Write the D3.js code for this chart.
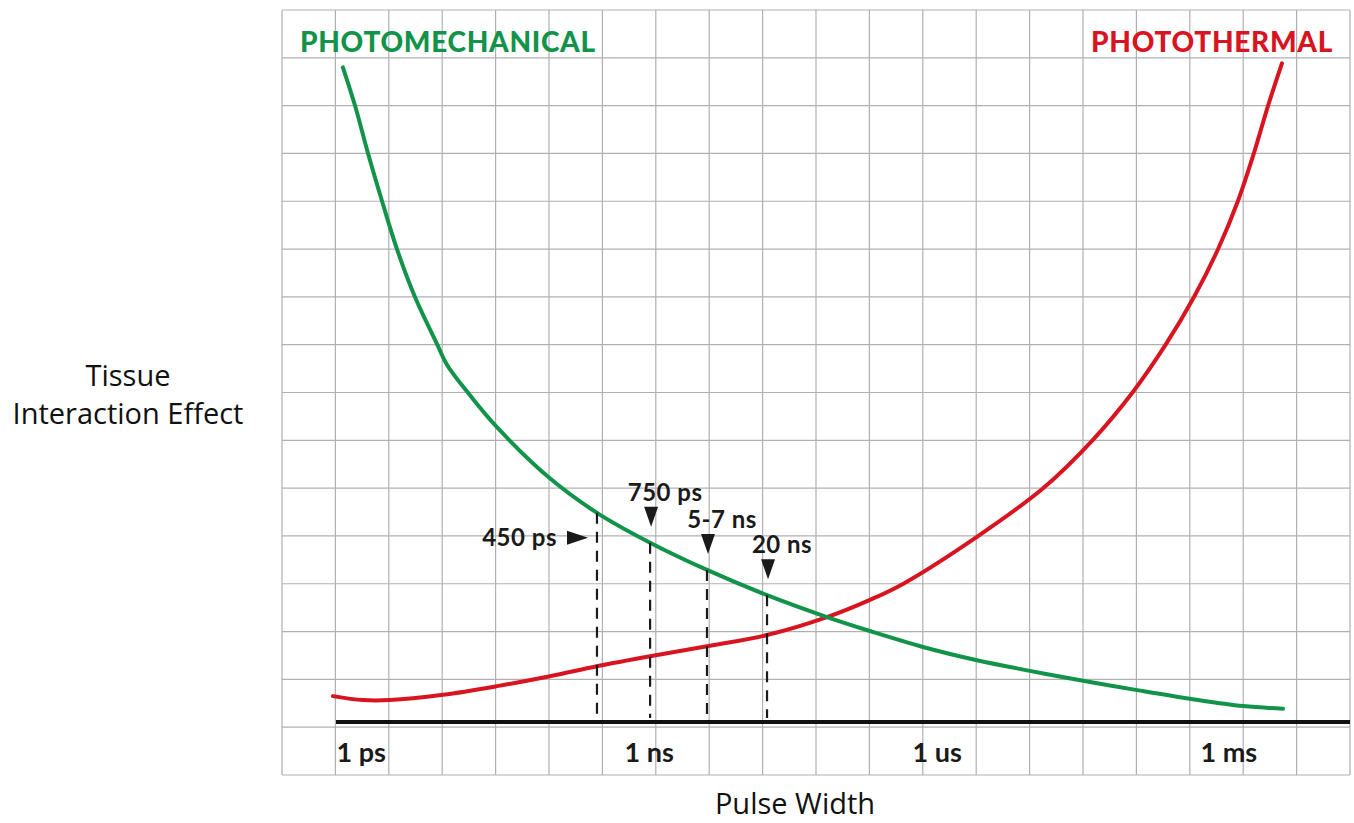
<!DOCTYPE html>
<html>
<head>
<meta charset="utf-8">
<script src="https://cdn.jsdelivr.net/npm/d3@7"></script>
<style>
  body { margin: 0; background: #fff; }
  svg { display: block; }
</style>
</head>
<body>
<svg id="chart" width="1354" height="823"></svg>
<script>

// pulse width (s) and effect (% of full scale)
const mechPulse = [1.18e-12, 1.58e-12, 2.15e-12, 3.01e-12, 4.32e-12, 6.65e-12, 1.13e-11, 1.43e-11,
                   2.49e-11, 4.75e-11, 1.69e-10, 5.23e-10, 1.87e-9, 7.32e-9, 3.09e-8, 1.30e-7,
                   3.65e-7, 1.30e-6, 4.75e-6, 1.69e-5, 6.04e-5, 2.21e-4, 7.87e-4, 2.81e-3, 7.33e-3]
const mechEffect = [98.6, 92.8, 85.7, 78.5, 71.2, 64.0, 56.9, 53.8,
                    49.2, 44.4, 36.7, 31.5, 27.0, 22.9, 19.1, 15.8,
                    13.7, 11.3, 9.3, 7.7, 6.2, 4.8, 3.5, 2.4, 2.0]

const thermPulse = [9.3e-13, 1.91e-12, 3.65e-12, 1.30e-11, 4.75e-11, 1.69e-10, 5.23e-10, 1.87e-9,
                    7.32e-9, 3.09e-8, 1.30e-7, 3.65e-7, 8.05e-7, 4.87e-6, 2.32e-5, 7.67e-5,
                    2.00e-4, 4.42e-4, 8.66e-4, 1.54e-3, 2.49e-3, 3.65e-3, 5.11e-3, 7.14e-3]
const thermEffect = [3.9, 3.3, 3.3, 4.1, 5.4, 6.9, 8.4, 9.9,
                     11.4, 13.1, 15.8, 18.4, 20.8, 28.0, 35.2, 42.5,
                     49.7, 56.9, 64.0, 71.2, 78.5, 85.7, 92.8, 99.2]

const tickPulse = [1e-12, 1e-9, 1e-6, 1e-3]
const tickLabels = ['1 ps', '1 ns', '1 us', '1 ms']

const markerLabels = ['450 ps', '750 ps', '5-7 ns', '20 ns']
const markerPulse = [5.23e-10, 1.87e-9, 7.32e-9, 3.09e-8]
const markerTop = [31.5, 27.0, 22.9, 19.1]

const GREEN = '#12934a'
const RED = '#d7141f'
const BOLD = 'Lato, "Open Sans", sans-serif'
const PLAIN = '"Open Sans", "Noto Sans", sans-serif'

function DrawChart(){

	const svg = d3.select('#chart')

	// paper grid frame
	const frame = {left: 282, right: 1350, top: 10, bottom: 775}
	const cols = 20, rows = 16

	const gx = d3.scaleLinear().domain([0, cols]).range([frame.left, frame.right])
	const gy = d3.scaleLinear().domain([0, rows]).range([frame.top, frame.bottom])

	const grid = svg.append('g')
		.attr('stroke', '#b0b0b0')
		.attr('stroke-width', 1.2)

	grid.selectAll('.v')
		.data(d3.range(cols + 1))
		.join('line')
			.attr('x1', d => gx(d)).attr('x2', d => gx(d))
			.attr('y1', frame.top).attr('y2', frame.bottom)

	grid.selectAll('.h')
		.data(d3.range(rows + 1))
		.join('line')
			.attr('x1', frame.left).attr('x2', frame.right)
			.attr('y1', d => gy(d)).attr('y2', d => gy(d))

	// x scale (log pulse width), y scale (effect)
	const x = d3.scaleLog()
				.domain([1e-12, 1e-3])
				.range([336, 1200])

	const y = d3.scaleLinear()
				.domain([0, 100])
				.range([722, 58])

	// baseline
	svg.append('line')
		.attr('x1', x(1e-12)).attr('x2', frame.right)
		.attr('y1', y(0)).attr('y2', y(0))
		.attr('stroke', '#111')
		.attr('stroke-width', 4)

	const xAxis = svg.append('g')
		.attr('transform', 'translate(0,' + y(0) + ')')
		.call(d3.axisBottom(x)
			.tickValues(tickPulse)
			.tickFormat((d, i) => tickLabels[i])
			.tickSize(0))

	xAxis.select('.domain').remove()
	xAxis.selectAll('text')
		.attr('y', 40)
		.attr('dy', 0)
		.attr('text-anchor', 'start')
		.attr('fill', '#1a1a1a')
		.style('font-family', BOLD)
		.style('font-weight', 700)
		.style('font-size', '27px')

	// curves
	const line = d3.line()
		.x(d => x(d[0]))
		.y(d => y(d[1]))
		.curve(d3.curveCatmullRom.alpha(0.5))

	svg.append('path')
		.datum(d3.zip(thermPulse, thermEffect))
		.attr('fill', 'none')
		.attr('stroke', RED)
		.attr('stroke-width', 4)
		.attr('stroke-linecap', 'round')
		.attr('d', line)

	svg.append('path')
		.datum(d3.zip(mechPulse, mechEffect))
		.attr('fill', 'none')
		.attr('stroke', GREEN)
		.attr('stroke-width', 4)
		.attr('stroke-linecap', 'round')
		.attr('d', line)

	// pulse width markers
	const markers = svg.append('g')
		.selectAll('g')
		.data(d3.range(markerLabels.length))
		.join('g')
			.attr('transform', i => 'translate(' + x(markerPulse[i]) + ',' + y(markerTop[i]) + ')')

	markers.append('line')
		.attr('x1', 0).attr('x2', 0)
		.attr('y1', 0)
		.attr('y2', i => y(0) - y(markerTop[i]) - 4)
		.attr('stroke', '#1a1a1a')
		.attr('stroke-width', 2.2)
		.attr('stroke-dasharray', '11,8')

	// first marker points in from the left, the rest point down
	markers.append('path')
		.attr('fill', '#1a1a1a')
		.attr('d', i => i === 0
			? 'M-30,18L-30,32L-9,25Z'
			: 'M-6,-36L8,-36L1,-16Z')

	markers.append('text')
		.attr('x', i => i === 0 ? -40 : 15)
		.attr('y', i => i === 0 ? 33 : -42)
		.attr('text-anchor', i => i === 0 ? 'end' : 'middle')
		.attr('fill', '#1a1a1a')
		.style('font-family', BOLD)
		.style('font-weight', 700)
		.style('font-size', '24px')
		.style('letter-spacing', '0.5px')
		.text(i => markerLabels[i])

	// series titles
	svg.append('text')
		.attr('x', 300).attr('y', 52)
		.attr('fill', GREEN)
		.style('font-family', BOLD)
		.style('font-weight', 900)
		.style('font-size', '28px')
		.style('letter-spacing', '0.7px')
		.text('PHOTOMECHANICAL')

	svg.append('text')
		.attr('x', 1333).attr('y', 52)
		.attr('text-anchor', 'end')
		.attr('fill', RED)
		.style('font-family', BOLD)
		.style('font-weight', 900)
		.style('font-size', '28px')
		.style('letter-spacing', '0.7px')
		.text('PHOTOTHERMAL')

	// axis titles
	const yTitle = svg.append('text')
		.attr('text-anchor', 'middle')
		.attr('fill', '#111')
		.style('font-family', PLAIN)
		.style('font-size', '29px')

	yTitle.append('tspan').attr('x', 128).attr('y', 386).text('Tissue')
	yTitle.append('tspan').attr('x', 128).attr('y', 424).text('Interaction Effect')

	svg.append('text')
		.attr('x', 795).attr('y', 814)
		.attr('text-anchor', 'middle')
		.attr('fill', '#111')
		.style('font-family', PLAIN)
		.style('font-size', '29px')
		.text('Pulse Width')
}

DrawChart()
</script>
</body>
</html>
